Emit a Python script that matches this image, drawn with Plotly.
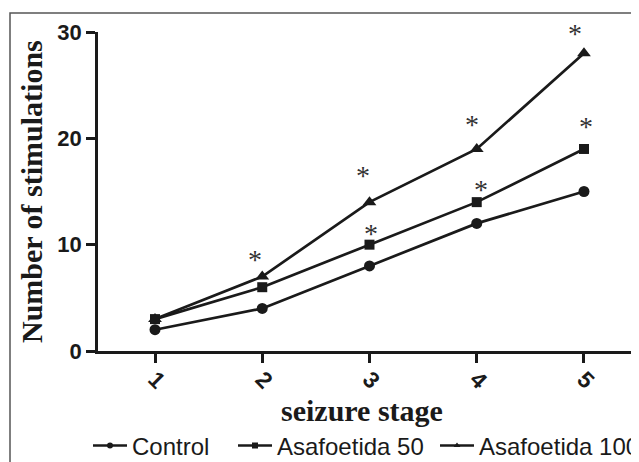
import plotly.graph_objects as go

# ---- data ----
stages = [1, 2, 3, 4, 5]
stage_labels = ["1", "2", "3", "4", "5"]
control = [2, 4, 8, 12, 15]
asaf50 = [3, 6, 10, 14, 19]
asaf100 = [3, 7, 14, 19, 28]
y_ticks = [0, 10, 20, 30]
y_max = 30

# significance asterisks (position in data units)
sig_x = [1.935, 2.944, 3.01, 3.96, 4.04, 4.92, 5.02]
sig_y = [9.3, 17.2, 11.7, 22.0, 15.8, 30.5, 21.8]

series = [
    ("Control", control, "circle", 11),
    ("Asafoetida 50", asaf50, "square", 10),
    ("Asafoetida 100", asaf100, "triangle-up", 12),
]

INK = "#1a1a1a"
OFF = 8  # page body margin
W, H = 639 - OFF, 462 - OFF
L, R, T, B = 98 - OFF, 0, 32 - OFF, 111
PW, PH = W - L - R, H - T - B

def px_x(p):
    return (p - OFF - L) / PW

def px_y(p):
    return (H - B - (p - OFF)) / PH

legend_ids = ["legend", "legend2", "legend3"]
legend_px = [88, 233, 435]

fig = go.Figure()
for (name, vals, sym, sz), lid in zip(series, legend_ids):
    fig.add_trace(go.Scatter(
        x=stages, y=vals, mode="lines+markers", name=name,
        line=dict(color=INK, width=2.7),
        marker=dict(symbol=sym, size=sz, color=INK),
        cliponaxis=False, showlegend=False,
    ))
    # legend proxy with small marker
    fig.add_trace(go.Scatter(
        x=[None], y=[None], mode="lines+markers", name=name,
        line=dict(color=INK, width=2.5),
        marker=dict(symbol=sym, size=6, color=INK),
        showlegend=True, legend=lid,
    ))

annotations = [
    dict(text="*", x=sx, y=sy / y_max, xref="x", yref="paper", showarrow=False,
         xanchor="center", yanchor="middle", yshift=-7,
         font=dict(family="Liberation Serif, Times New Roman", size=28, color="#333333"))
    for sx, sy in zip(sig_x, sig_y)
]
annotations += [
    dict(text="<b>seizure stage</b>", xref="paper", yref="paper",
         x=px_x(361.5), y=px_y(410), xanchor="center", yanchor="middle",
         showarrow=False,
         font=dict(family="Liberation Serif, Times New Roman", size=30, color=INK)),
    dict(text="<b>Number of stimulations</b>", xref="paper", yref="paper",
         x=px_x(32), y=px_y(192), xanchor="center", yanchor="middle",
         textangle=-90, showarrow=False,
         font=dict(family="Liberation Serif, Times New Roman", size=30, color=INK)),
]

legend_style = dict(
    orientation="h", xanchor="left", yanchor="middle",
    font=dict(family="Liberation Sans, Arial", size=24, color=INK),
    bgcolor="rgba(0,0,0,0)", itemwidth=34,
)

layout_legends = {
    lid: dict(legend_style, x=px_x(lx), y=px_y(446))
    for lid, lx in zip(legend_ids, legend_px)
}

fig.update_layout(
    width=W, height=H,
    margin=dict(l=L, r=R, t=T, b=B, autoexpand=False),
    paper_bgcolor="white", plot_bgcolor="white",
    showlegend=True,
    xaxis=dict(
        range=[0.4685, 5.513], tickvals=stages, ticktext=stage_labels,
        tickangle=45, showline=True, linecolor=INK, linewidth=2.5,
        ticks="outside", ticklen=9, tickwidth=2.5, tickcolor=INK,
        showgrid=False, zeroline=False, automargin=False,
        ticklabelstandoff=-6,
        tickfont=dict(family="Liberation Sans, Arial", size=23, color=INK, weight="bold"),
    ),
    yaxis=dict(
        range=[0, y_max], tickvals=y_ticks,
        showline=True, linecolor=INK, linewidth=2.5,
        ticks="outside", ticklen=9, tickwidth=2.5, tickcolor=INK,
        showgrid=False, zeroline=False, automargin=False,
        tickfont=dict(family="Liberation Sans, Arial", size=22, color=INK, weight="bold"),
    ),
    annotations=annotations,
    shapes=[
        dict(type="path", xref="paper", yref="paper",
             path=f"M {px_x(10)} {px_y(480)} L {px_x(10)} {px_y(13)} L {px_x(680)} {px_y(13)}",
             line=dict(color="#555555", width=1.5)),
    ],
    **layout_legends,
)

fig.write_html("out.html")
